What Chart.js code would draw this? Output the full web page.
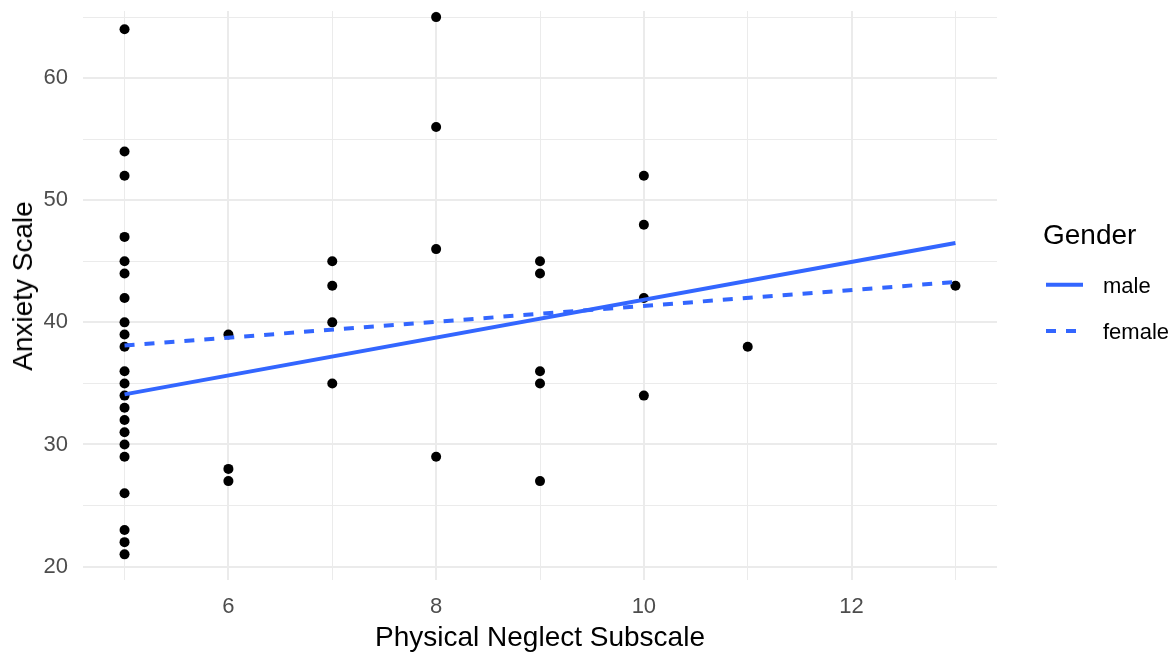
<!DOCTYPE html>
<html>
<head>
<meta charset="utf-8">
<script src="https://cdn.jsdelivr.net/npm/chart.js@4/dist/chart.umd.min.js"></script>
<style>
  body { margin: 0; background: #fff; font-family: "Liberation Sans", Arial, sans-serif; }
  #wrap { position: relative; width: 1176px; height: 653px; }
  .lg { position: absolute; color: #000; white-space: nowrap; }
  #ytitle { position: absolute; left: 23px; top: 286px; font-size: 28px; line-height: 28px;
            transform: translate(-50%, -50%) rotate(-90deg); white-space: nowrap; }
</style>
</head>
<body>
<div id="wrap">
  <canvas id="plot" width="1176" height="653"></canvas>
  <div id="ytitle">Anxiety Scale</div>
  <div class="lg" style="left:1043px; top:221px; font-size:28px; line-height:28px;">Gender</div>
  <svg style="position:absolute; left:1046px; top:278px;" width="40" height="60">
    <line x1="0" y1="6.7" x2="37" y2="6.7" stroke="#3366FF" stroke-width="4"/>
    <line x1="0" y1="53" x2="37" y2="53" stroke="#3366FF" stroke-width="4" stroke-dasharray="10 10"/>
  </svg>
  <div class="lg" style="left:1103px; top:275px; font-size:22px; line-height:22px;">male</div>
  <div class="lg" style="left:1103px; top:321px; font-size:22px; line-height:22px;">female</div>
</div>
<script>
// scatter: physical neglect vs anxiety
const neglect = [
  5, 5, 5, 5, 5, 5, 5, 5, 5, 5, 5, 5, 5, 5, 5, 5, 5, 5, 5, 5, 5, 5,
  6, 6, 6,
  7, 7, 7, 7,
  8, 8, 8, 8,
  9, 9, 9, 9, 9,
  10, 10, 10, 10,
  11,
  13
];
const anxiety = [
  64, 54, 52, 47, 45, 44, 42, 40, 39, 38, 36, 35, 34, 33, 32, 31, 30, 29, 26, 23, 22, 21,
  39, 28, 27,
  45, 43, 40, 35,
  65, 56, 46, 29,
  45, 44, 36, 35, 27,
  52, 48, 42, 34,
  38,
  43
];

// fitted lines (lm per gender), ends at x = 5 and x = 13
const fitX = [5, 13];
const maleFit = [34.1, 46.5];
const femaleFit = [38.1, 43.3];

const xTicks = [5, 6, 7, 8, 9, 10, 11, 12, 13];
const xLabels = [6, 8, 10, 12];
const yTicks = [20, 25, 30, 35, 40, 45, 50, 55, 60, 65];
const yLabels = [20, 30, 40, 50, 60];

const FONT = '"Liberation Sans", Arial, sans-serif';
const blue = '#3366FF';
const gridCol = '#EBEBEB';

const pts = neglect.map((x, i) => ({ x: x, y: anxiety[i] }));
const line = ys => fitX.map((x, i) => ({ x: x, y: ys[i] }));

new Chart(document.getElementById('plot'), {
  type: 'scatter',
  data: {
    datasets: [
      {
        label: 'male', type: 'line', data: line(maleFit),
        borderColor: blue, borderWidth: 4, pointRadius: 0, fill: false, order: 0
      },
      {
        label: 'female', type: 'line', data: line(femaleFit),
        borderColor: blue, borderWidth: 4, borderDash: [10, 10], pointRadius: 0, fill: false, order: 0
      },
      {
        label: 'obs', data: pts,
        backgroundColor: '#000', borderWidth: 0, pointRadius: 5, order: 1
      }
    ]
  },
  options: {
    responsive: false,
    animation: false,
    layout: { padding: { top: 11, right: 179, left: 0, bottom: 0 } },
    plugins: { legend: { display: false }, tooltip: { enabled: false } },
    scales: {
      x: {
        type: 'linear', min: 4.6, max: 13.4,
        afterBuildTicks: s => { s.ticks = xTicks.map(v => ({ value: v })); },
        afterFit: s => { s.height = 73; s.paddingLeft = 0; s.paddingRight = 0; },
        border: { display: false },
        grid: {
          color: gridCol, drawTicks: false,
          lineWidth: c => (xLabels.includes(c.tick.value) ? 2 : 1)
        },
        ticks: {
          autoSkip: false, maxRotation: 0, padding: 14, color: '#4D4D4D',
          font: { family: FONT, size: 22 },
          callback: v => (xLabels.includes(v) ? String(v) : '')
        },
        title: {
          display: true, text: 'Physical Neglect Subscale', color: '#000',
          font: { family: FONT, size: 28, lineHeight: 1 }, padding: { top: 0, bottom: 1 }
        }
      },
      y: {
        type: 'linear', min: 18.9, max: 65.5,
        afterBuildTicks: s => { s.ticks = yTicks.map(v => ({ value: v })); },
        afterFit: s => { s.width = 83; s.paddingTop = 0; s.paddingBottom = 0; },
        border: { display: false },
        grid: {
          color: gridCol, drawTicks: false,
          lineWidth: c => (yLabels.includes(c.tick.value) ? 2 : 1)
        },
        ticks: {
          autoSkip: false, padding: 15, color: '#4D4D4D',
          font: { family: FONT, size: 22 },
          callback: v => (yLabels.includes(v) ? String(v) : '')
        }
      }
    }
  }
});
</script>
</body>
</html>
